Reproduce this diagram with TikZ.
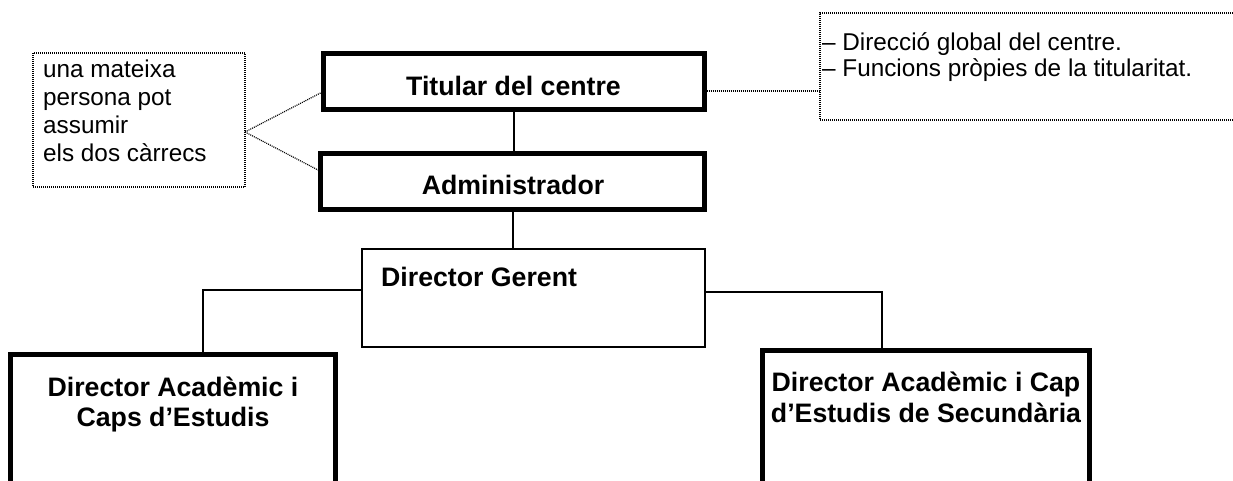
\documentclass[tikz,border=0pt]{standalone}
\usepackage{fontspec}
\setmainfont{Liberation Sans}
\begin{document}
\begin{tikzpicture}[x=1pt,y=-1pt,
  thickbox/.style={draw, line width=5pt, rectangle, inner sep=0pt, outer sep=0pt},
  thinbox/.style={draw, line width=1.8pt, rectangle, inner sep=0pt, outer sep=0pt},
  notebox/.style={draw, line width=1.2pt, dash pattern=on 1pt off 1pt, rectangle, inner sep=0pt, outer sep=0pt},
  conn/.style={line width=2pt},
  noteline/.style={line width=1.2pt, dash pattern=on 1pt off 1pt},
  title/.style={font=\fontsize{26.7}{30}\selectfont\bfseries, inner sep=0pt, anchor=base},
  notetext/.style={font=\fontsize{24.3}{27.5}\selectfont, inner sep=0pt, anchor=base west}]
\clip (0,0) rectangle (1233,481);
\fill[white] (0,0) rectangle (1233,481);

% boxes
\node[thickbox, minimum width=381pt, minimum height=56pt] (tit) at (513.5,82) {};
\node[thickbox, minimum width=384pt, minimum height=56pt] (adm) at (512.5,181.5) {};
\node[thinbox, minimum width=343pt, minimum height=98pt] (ger) at (533.5,298) {};
\node[thickbox, minimum width=325pt, minimum height=210pt] (lbox) at (173,459.5) {};
\node[thickbox, minimum width=327pt, minimum height=210pt] (rbox) at (926,455.5) {};
\node[notebox, minimum width=212pt, minimum height=134pt] (lnote) at (139,120) {};
\node[notebox, minimum width=425pt, minimum height=107pt] (rnote) at (1032.5,66.5) {};

% texts
\node[title] (tittext) at (513.5,95.6) {Titular del centre};
\node[title] (admtext) at (513,194.6) {Administrador};
\node[title, anchor=base west] (gertext) at (381,286.6) {Director Gerent};
\node[title] (la) at (173,396.6) {Director Acadèmic i};
\node[title] (lb) at (173,426.6) {Caps d’Estudis};
\node[title] (ra) at (926,391.6) {Director Acadèmic i Cap};
\node[title] (rb) at (926,422.6) {d’Estudis de Secundària};
\node[notetext] (n1) at (43,78) {una mateixa};
\node[notetext] (n2) at (43,106) {persona pot};
\node[notetext] (n3) at (43,134) {assumir};
\node[notetext] (n4) at (43,162) {els dos càrrecs};
\node[notetext] (r1) at (822,50.4) {– Direcció global del centre.};
\node[notetext] (r2) at (822,77) {– Funcions pròpies de la titularitat.};

% connectors
\draw[conn] (tit.south) -- (tit.south |- adm.north);
\draw[conn] (adm.south) -- (adm.south |- ger.north);
\coordinate (lk) at (203,290);
\coordinate (rk) at (882,292);
\draw[conn] (ger.west |- lk) -- (lk) -- (lk |- lbox.north);
\draw[conn] (ger.east |- rk) -- (rk) -- (rk |- rbox.north);

% note leaders
\coordinate (np) at (245,132);
\draw[noteline] (np) -- ([xshift=-2.5pt,yshift=-11pt]tit.west);
\draw[noteline] (np) -- ([xshift=-2.5pt,yshift=11.5pt]adm.west);
\coordinate (tr) at ([xshift=2.5pt,yshift=-9pt]tit.east);
\draw[noteline] (tr) -- (tr -| rnote.west);
\end{tikzpicture}
\end{document}
